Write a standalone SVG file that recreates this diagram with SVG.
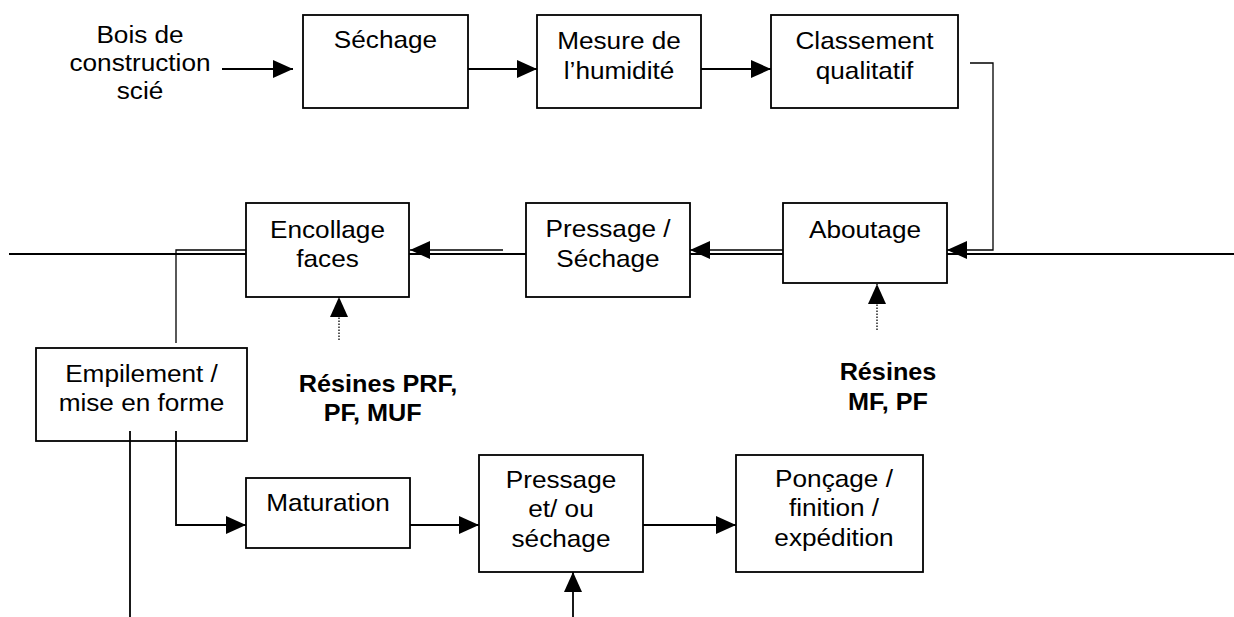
<svg xmlns="http://www.w3.org/2000/svg" width="1234" height="617" viewBox="0 0 1234 617">
<defs>
<style>
.box{fill:#fff;stroke:#000;stroke-width:1.8}
.t{font-family:"Liberation Sans",Arial,sans-serif;font-size:23.8px;text-anchor:middle;fill:#000}
.b{font-weight:bold}
.ln{fill:none;stroke:#000;stroke-width:1.8}
.thin{fill:none;stroke:#000;stroke-width:1.3}
.dot{fill:none;stroke:#000;stroke-width:1.3;stroke-dasharray:1.5 1.5}
</style>
<marker id="ah" markerUnits="userSpaceOnUse" markerWidth="20" markerHeight="18" refX="20" refY="9" orient="auto"><path d="M0,0 L20,9 L0,18 z" fill="#000"/></marker>
</defs>
<rect width="1234" height="617" fill="#fff"/>
<g id="input">
<text class="t" transform="matrix(1.1 0 0 1 140 42.7)"><tspan x="0">Bois de</tspan><tspan x="0" dy="28.3">construction</tspan><tspan x="0" dy="28.3">scié</tspan></text>
</g>
<g id="sechage">
<rect class="box" x="303" y="15" width="165" height="93"/>
<text class="t" transform="matrix(1.1 0 0 1 385.5 48)">Séchage</text>
</g>
<g id="mesure">
<rect class="box" x="537" y="15" width="164" height="93"/>
<text class="t" transform="matrix(1.1 0 0 1 619 49)"><tspan x="0">Mesure de</tspan><tspan x="0" dy="30">l’humidité</tspan></text>
</g>
<g id="classement">
<rect class="box" x="771" y="15" width="187" height="93"/>
<text class="t" transform="matrix(1.1 0 0 1 864.5 49)"><tspan x="0">Classement</tspan><tspan x="0" dy="30">qualitatif</tspan></text>
</g>
<g id="aboutage">
<rect class="box" x="783" y="203" width="164" height="80"/>
<text class="t" transform="matrix(1.1 0 0 1 865 238)">Aboutage</text>
</g>
<g id="pressage-sechage">
<rect class="box" x="526" y="203" width="164" height="94"/>
<text class="t" transform="matrix(1.1 0 0 1 608 237)"><tspan x="0">Pressage /</tspan><tspan x="0" dy="30">Séchage</tspan></text>
</g>
<g id="encollage">
<rect class="box" x="246" y="203" width="163" height="94"/>
<text class="t" transform="matrix(1.1 0 0 1 327.5 238)"><tspan x="0">Encollage</tspan><tspan x="0" dy="29">faces</tspan></text>
</g>
<g id="empilement">
<rect class="box" x="36" y="348" width="211" height="93"/>
<text class="t" transform="matrix(1.1 0 0 1 141.5 381.7)"><tspan x="0">Empilement /</tspan><tspan x="0" dy="29">mise en forme</tspan></text>
</g>
<g id="maturation">
<rect class="box" x="246" y="478" width="164" height="70"/>
<text class="t" transform="matrix(1.1 0 0 1 328 511)">Maturation</text>
</g>
<g id="pressage-sechage-2">
<rect class="box" x="479" y="455" width="164" height="117"/>
<text class="t" transform="matrix(1.1 0 0 1 561 488)"><tspan x="0">Pressage</tspan><tspan x="0" dy="29.5">et/ ou</tspan><tspan x="0" dy="29.5">séchage</tspan></text>
</g>
<g id="poncage">
<rect class="box" x="736" y="455" width="187" height="117"/>
<text class="t" transform="matrix(1.1 0 0 1 834 487)"><tspan x="0">Ponçage /</tspan><tspan x="0" dy="29.5">finition /</tspan><tspan x="0" dy="29.5">expédition</tspan></text>
</g>
<g id="resines-encollage">
<text class="t b" transform="matrix(1.06 0 0 1 378 392)"><tspan x="0">Résines PRF,</tspan><tspan x="-5" dy="29.5">PF, MUF</tspan></text>
</g>
<g id="resines-aboutage">
<text class="t b" transform="matrix(1.06 0 0 1 888 380)"><tspan x="0">Résines</tspan><tspan x="0" dy="30">MF, PF</tspan></text>
</g>
<g id="connectors">
<line class="ln" x1="9" y1="254" x2="246" y2="254"/>
<line class="ln" x1="409" y1="254" x2="526" y2="254"/>
<line class="ln" x1="690" y1="254" x2="783" y2="254"/>
<line class="ln" x1="947" y1="254" x2="1234" y2="254"/>
<line class="ln" x1="222" y1="69" x2="293" y2="69" marker-end="url(#ah)"/>
<line class="ln" x1="468" y1="69" x2="537" y2="69" marker-end="url(#ah)"/>
<line class="ln" x1="701" y1="69" x2="771" y2="69" marker-end="url(#ah)"/>
<polyline class="thin" points="970,63 993,63 993,250 947,250" marker-end="url(#ah)"/>
<line class="thin" x1="783" y1="250" x2="690" y2="250" marker-end="url(#ah)"/>
<line class="thin" x1="503" y1="250" x2="410" y2="250" marker-end="url(#ah)"/>
<polyline class="thin" points="246,250 176,250 176,343"/>
<line class="dot" x1="339" y1="340" x2="339" y2="297" marker-end="url(#ah)"/>
<line class="dot" x1="877" y1="330" x2="877" y2="284" marker-end="url(#ah)"/>
<line class="ln" x1="130" y1="431" x2="130" y2="617"/>
<polyline class="ln" points="176,431 176,525 246,525" marker-end="url(#ah)"/>
<line class="ln" x1="410" y1="525" x2="479" y2="525" marker-end="url(#ah)"/>
<line class="ln" x1="643" y1="525" x2="736" y2="525" marker-end="url(#ah)"/>
<line class="ln" x1="573" y1="617" x2="573" y2="572" marker-end="url(#ah)"/>
</g>
</svg>
